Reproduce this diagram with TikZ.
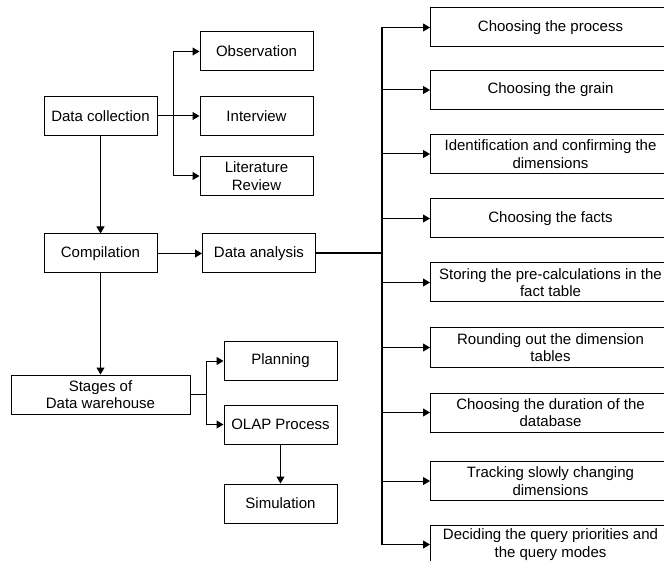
\documentclass[tikz,border=0pt]{standalone}
\usepackage{fontspec}
\setmainfont{Liberation Sans}
\usetikzlibrary{positioning, arrows.meta}

\tikzset{
    blk/.style={draw, line width=0.5pt, inner sep=1pt, align=center,
        minimum width=56.5pt, minimum height=19.5pt,
        font=\fontsize{7.5}{8.8}\selectfont},
    wideblk/.style={blk, minimum width=120pt},
    ln/.style={line width=0.5pt},
    arr/.style={ln, -{Triangle[length=3.5pt,width=4pt]}}
}

\begin{document}
\begin{tikzpicture}[x=0.5pt, y=-0.5pt]
        \useasboundingbox (0,0) rectangle (664,561);
        % left column
        \node[blk] (DC) at (100.5,116) {Data collection};
        \node[blk] (OB) at (256.5,51.5) {Observation};
        \node[blk] (IV) at (256.5,116) {Interview};
        \node[blk] (LR) at (256.5,176) {Literature\\Review};
        \node[blk] (CO) at (100.5,253.5) {Compilation};
        \node[blk] (DA) at (259,253.5) {Data analysis};
        \node[blk, minimum width=89.5pt] (SD) at (100.5,394.5) {Stages of\\Data warehouse};
        \node[blk] (PL) at (280.5,361) {Planning};
        \node[blk] (OP) at (280.5,424.5) {OLAP Process};
        \node[blk] (SI) at (280.5,503.5) {Simulation};
        \coordinate (J1) at (173,116);
        \coordinate (J2) at (206,394.5);
        \coordinate (J3) at (382,253.5);
        % right column
        \foreach \y/\t [count=\i] in {27.5/{Choosing the process},
            90/{Choosing the grain},
            154/{Identification and confirming the\\dimensions},
            218.5/{Choosing the facts},
            282.5/{Storing the pre-calculations in the\\fact table},
            347.5/{Rounding out the dimension\\tables},
            412.5/{Choosing the duration of the\\database},
            481/{Tracking slowly changing\\dimensions},
            544.5/{Deciding the query priorities and\\the query modes}}
        {
            \node[wideblk] (R\i) at (550.5,\y) {\t};
            \draw[arr] (J3 |- R\i.west) -- (R\i.west);
        }
        % connectors
        \draw[arr] (DC) -- (IV);
        \draw[arr] (J1) |- (OB);
        \draw[arr] (J1) |- (LR);
        \draw[arr] (DC) -- (CO);
        \draw[arr] (CO) -- (DA);
        \draw[arr] (CO) -- (SD);
        \draw[ln] (SD) -- (J2);
        \draw[arr] (J2) |- (PL);
        \draw[arr] (J2) |- (OP);
        \draw[arr] (OP) -- (SI);
        \draw[line width=1pt] (DA) -- (J3);
        \draw[line width=0.75pt] (J3 |- R1.west) -- (J3 |- R9.west);
    \end{tikzpicture}
\end{document}
